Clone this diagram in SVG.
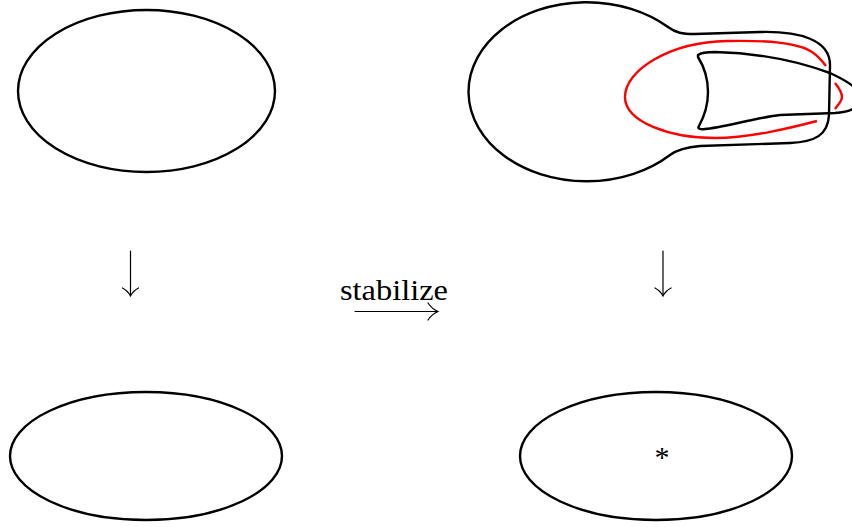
<svg xmlns="http://www.w3.org/2000/svg" width="852" height="527" viewBox="0 0 852 527">
<style>
.sh{fill:none;stroke:#000;stroke-width:2.4;stroke-linejoin:round}
.red{fill:none;stroke:#f00;stroke-width:2.4;stroke-linecap:butt}
.ar{fill:none;stroke:#000;stroke-width:1.2;stroke-linecap:round}
.t{font-family:"Liberation Serif",serif;fill:#000}
</style>
<rect width="852" height="527" fill="#fff"/>
<g id="top-left">
<ellipse class="sh" cx="146.5" cy="91" rx="128.5" ry="81"/>
</g>
<g id="bottom-left">
<ellipse class="sh" cx="146" cy="456" rx="136" ry="64"/>
</g>
<g id="bottom-right">
<ellipse class="sh" cx="656" cy="456" rx="136" ry="64"/>
<text class="t" x="662" y="467" font-size="30" text-anchor="middle">*</text>
</g>
<g id="top-right">
<path class="sh" d="M670,155 A118,89.5 0 1 1 668,27 C676,33 682,34 695,34 L760,32 C800,31 830,40 830,65 L829,115 C828,135 815,142 790,143 L700,146 C688,147 678,149 670,155 Z"/>
<path class="red" d="M817,121 C790,128 750,138 715,138 C670,138 625,122 625,97 C625,70 670,42 727,41 C770,40 800,44 812,52 C818,56 823,62 826,66"/>
<path class="red" d="M835,83 C839,88 842,93 842,97 C842,101 838,105 835,109"/>
<path class="sh" d="M698,55 C702,52 710,52 715,52 C760,53 800,62 830,73 C845,80 860,88 860,98 C860,108 850,112 835,113 L780,115 C760,117 720,128 705,129 C700,130 697,128 699,126 C705,115 708,105 708,92 C708,78 703,65 698,57 Z"/>
</g>
<g id="connectors">
<path class="ar" d="M130.5,251 V295 M122.5,288 Q128,291 130.5,296 Q133,291 138.5,288"/>
<path class="ar" d="M663,251 V295 M655,288 Q660.5,291 663,296 Q665.5,291 671,288"/>
<path class="ar" d="M355,311.5 H437 M428,303 Q432,309 438,311.5 Q432,314 428,320"/>
<text class="t" x="340" y="300" font-size="29" textLength="108" lengthAdjust="spacingAndGlyphs">stabilize</text>
</g>
</svg>
